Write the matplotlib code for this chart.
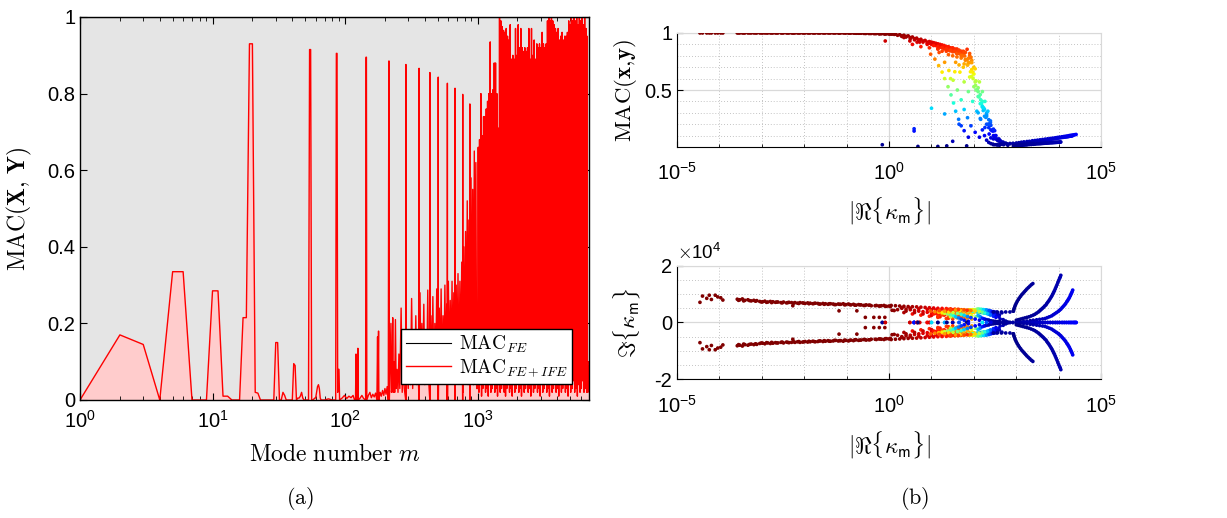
import numpy as np
import matplotlib
matplotlib.use("Agg")
import matplotlib.pyplot as plt
from matplotlib.ticker import FixedLocator, MultipleLocator, NullFormatter

plt.rcParams['font.family'] = ['Liberation Sans', 'DejaVu Sans']
plt.rcParams['mathtext.fontset'] = 'cm'
plt.rcParams['axes.unicode_minus'] = False

# ---------------- (a) MAC per mode ----------------
fe_modes = [1, 6900]
mac_fe = [1.0, 1.0]

# modes 1..66, read one by one
modes_lo = [1, 2, 3, 4, 5, 6, 7, 8, 9, 10,
            11, 12, 13, 14, 15, 16, 17, 18, 19, 20,
            21, 22, 23, 24, 25, 26, 27, 28, 29, 30,
            31, 32, 33, 34, 35, 36, 37, 38, 39, 40,
            41, 42, 43, 44, 45, 46, 47, 48, 49, 50,
            51, 52, 53, 54, 55, 56, 57, 58, 59, 60,
            61, 62, 63, 64, 65, 66]
mac_lo = [0.0, 0.17, 0.145, 0.0, 0.335, 0.335, 0.0, 0.0, 0.0, 0.285,
          0.285, 0.01, 0.01, 0.0, 0.0, 0.0, 0.215, 0.215, 0.93, 0.93,
          0.02, 0.018, 0.0, 0.0, 0.0, 0.0, 0.0, 0.0, 0.0, 0.15,
          0.15, 0.0, 0.0, 0.02, 0.012, 0.0, 0.0, 0.0, 0.0, 0.0,
          0.095, 0.09, 0.0, 0.005, 0.005, 0.01, 0.02, 0.005, 0.0, 0.0,
          0.0, 0.0, 0.0, 0.915, 0.915, 0.0, 0.0, 0.002, 0.005, 0.005,
          0.02, 0.035, 0.04, 0.03, 0.005, 0.0]

modes_mid = [70, 75, 80, 85, 86, 87, 88, 89, 90, 91,
             95, 99, 103, 107, 111, 115, 118, 120, 121, 122,
             124, 125, 126, 130, 134, 138, 143, 144, 145, 146,
             150, 154, 158, 162, 166, 170, 174, 176, 177, 179,
             180, 184, 188, 192, 196, 200, 204, 208, 212, 214,
             215, 216, 222, 224, 227, 229, 231, 234, 237, 240,
             243, 247, 251, 255, 259, 265, 270, 275, 280, 287,
             288, 289, 295, 300, 306, 312, 318, 324, 330, 336,
             342, 348, 354, 361, 362, 363, 368, 374, 380, 386,
             393, 400, 407, 414, 421, 428, 436, 437, 438, 445,
             452, 460, 468, 476, 484, 492, 500, 504, 505, 506,
             514, 522, 531, 540, 549, 558, 567, 576, 585, 591,
             592, 593, 602, 612, 622, 632, 642, 652, 662, 675,
             676, 677, 690, 700, 712, 724, 736, 748, 760, 772,
             773, 774, 788, 800, 812, 824, 836, 848, 860, 874,
             875, 876, 893, 906, 919, 932, 945, 958, 971, 985]
mac_mid = [0.0, 0.003, 0.0, 0.0, 0.905, 0.905, 0.02, 0.08, 0.08, 0.0,
           0.005, 0.012, 0.004, 0.01, 0.006, 0.012, 0.0, 0.0, 0.12, 0.0,
           0.0, 0.135, 0.0, 0.005, 0.012, 0.004, 0.0, 0.895, 0.895, 0.0,
           0.012, 0.02, 0.006, 0.015, 0.008, 0.018, 0.0, 0.165, 0.0, 0.18,
           0.0, 0.02, 0.01, 0.025, 0.012, 0.03, 0.015, 0.035, 0.0, 0.885,
           0.885, 0.0, 0.2, 0.02, 0.04, 0.215, 0.02, 0.10, 0.02, 0.21,
           0.03, 0.08, 0.02, 0.12, 0.03, 0.24, 0.02, 0.09, 0.03, 0.0,
           0.876, 0.0, 0.14, 0.03, 0.18, 0.04, 0.265, 0.03, 0.15, 0.05,
           0.22, 0.04, 0.12, 0.0, 0.866, 0.0, 0.28, 0.05, 0.20, 0.06,
           0.25, 0.04, 0.18, 0.07, 0.287, 0.05, 0.0, 0.855, 0.0, 0.22,
           0.06, 0.27, 0.05, 0.20, 0.08, 0.29, 0.05, 0.0, 0.843, 0.0,
           0.24, 0.07, 0.29, 0.06, 0.22, 0.09, 0.30, 0.07, 0.25, 0.0,
           0.827, 0.0, 0.31, 0.08, 0.26, 0.10, 0.31, 0.07, 0.28, 0.0,
           0.814, 0.0, 0.30, 0.09, 0.33, 0.06, 0.31, 0.10, 0.36, 0.0,
           0.798, 0.02, 0.40, 0.05, 0.44, 0.08, 0.52, 0.04, 0.47, 0.0,
           0.773, 0.03, 0.58, 0.05, 0.55, 0.04, 0.65, 0.06, 0.62, 0.03]

modes_hi = [1000, 1012, 1024, 1035, 1047, 1060, 1072, 1085, 1097, 1110,
            1123, 1136, 1149, 1163, 1176, 1190, 1204, 1218, 1232, 1246,
            1261, 1275, 1290, 1305, 1320, 1336, 1351, 1367, 1383, 1399,
            1415, 1432, 1449, 1465, 1482, 1500, 1517, 1535, 1552, 1570,
            1589, 1607, 1626, 1645, 1664, 1683, 1703, 1723, 1743, 1763,
            1784, 1804, 1825, 1847, 1868, 1890, 1912, 1934, 1957, 1979,
            2002, 2026, 2049, 2073, 2097, 2122, 2146, 2171, 2197, 2222,
            2248, 2274, 2301, 2327, 2355, 2382, 2410, 2438, 2466, 2495,
            2524, 2553, 2583, 2613, 2643, 2674, 2705, 2736, 2768, 2800,
            2833, 2866, 2899, 2933, 2967, 3001, 3036, 3071, 3107, 3143,
            3180, 3217, 3254, 3292, 3330, 3369, 3408, 3448, 3488, 3528,
            3569, 3611, 3653, 3695, 3738, 3782, 3826, 3870, 3915, 3960,
            4006, 4053, 4100, 4148, 4196, 4245, 4294, 4344, 4394, 4445,
            4497, 4549, 4602, 4655, 4709, 4764, 4819, 4875, 4932, 4989,
            5047, 5106, 5165, 5225, 5286, 5347, 5409, 5472, 5536, 5600,
            5665, 5731, 5797, 5865, 5933, 6002, 6071, 6142, 6213, 6285,
            6358, 6432, 6507, 6582, 6659, 6700, 6736, 6770, 6800, 6850]
mac_hi = [0.03, 0.66, 0.02, 0.68, 0.04, 0.80, 0.01, 0.69, 0.03, 0.74,
          0.05, 0.74, 0.02, 0.76, 0.03, 0.78, 0.01, 0.80, 0.04, 0.935,
          0.02, 0.80, 0.03, 0.81, 0.05, 0.88, 0.02, 0.88, 0.03, 0.80,
          0.01, 0.71, 0.04, 1.00, 0.02, 0.99, 0.03, 0.975, 0.05, 0.965,
          0.02, 0.96, 0.01, 0.97, 0.03, 0.95, 0.04, 0.94, 0.02, 0.98,
          0.03, 0.89, 0.01, 0.90, 0.04, 0.89, 0.02, 0.97, 0.03, 0.90,
          0.05, 0.98, 0.02, 0.92, 0.03, 0.97, 0.01, 0.92, 0.04, 0.91,
          0.02, 0.92, 0.03, 0.91, 0.05, 0.92, 0.02, 0.97, 0.03, 0.89,
          0.01, 0.97, 0.04, 0.90, 0.02, 0.94, 0.03, 0.89, 0.05, 0.93,
          0.02, 0.92, 0.03, 0.93, 0.01, 0.92, 0.04, 0.96, 0.02, 0.93,
          0.03, 0.92, 0.05, 0.93, 0.02, 0.99, 0.03, 1.00, 0.01, 0.99,
          0.04, 1.00, 0.02, 0.99, 0.03, 0.98, 0.05, 0.97, 0.02, 0.96,
          0.03, 0.97, 0.01, 0.94, 0.04, 0.95, 0.02, 0.96, 0.03, 0.94,
          0.05, 0.95, 0.02, 0.95, 0.03, 0.96, 0.01, 0.99, 0.04, 0.98,
          0.02, 1.00, 0.03, 0.99, 0.05, 1.00, 0.02, 0.99, 0.03, 1.00,
          0.01, 0.98, 0.04, 1.00, 0.02, 0.99, 0.03, 1.00, 0.05, 0.98,
          0.02, 1.00, 0.03, 0.97, 0.02, 0.95, 0.03, 0.09, 0.02, 0.10]

# ---------------- (b) eigenvalues: log10|Re k|, MAC(x,y), Im k [x1e4] ----------------
slow_logre = [-4.46, -4.40, -4.30, -4.24, -4.19, -4.10, -4.04, -3.97, -3.92, -3.58,
              -3.52, -3.46, -3.40, -3.33, -3.25, -3.19, -3.12, -3.05, -2.98, -2.93,
              -2.86, -2.80, -2.74, -2.68, -2.62, -2.55, -2.49, -2.42, -2.36, -2.30,
              -2.27, -2.22, -2.16, -2.10, -2.04, -1.98, -1.92, -1.86, -1.80, -1.74,
              -1.68, -1.62, -1.56, -1.50, -1.44, -1.38, -1.32, -1.26, -1.20, -1.18,
              -1.14, -1.08, -1.02, -0.96, -0.90, -0.84, -0.78, -0.76, -0.72, -0.66,
              -0.60, -0.56, -0.54, -0.48, -0.42, -0.36, -0.30, -0.23, -0.24, -0.18,
              -0.12, -0.10, -0.06, 0.00, 0.07, 0.12]
slow_mac = [1.0, 1.0, 1.0, 1.0, 1.0, 1.0, 1.0, 1.0, 1.0, 1.0,
            1.0, 1.0, 1.0, 1.0, 1.0, 1.0, 1.0, 1.0, 1.0, 1.0,
            1.0, 1.0, 1.0, 1.0, 1.0, 1.0, 1.0, 1.0, 1.0, 1.0,
            1.0, 1.0, 1.0, 1.0, 1.0, 1.0, 1.0, 1.0, 1.0, 1.0,
            1.0, 1.0, 1.0, 1.0, 1.0, 1.0, 1.0, 1.0, 1.0, 1.0,
            1.0, 1.0, 0.999, 0.999, 0.999, 0.999, 0.998, 0.998, 0.998, 0.998,
            0.997, 0.997, 0.997, 0.996, 0.996, 0.995, 0.995, 0.994, 0.994, 0.993,
            0.993, 0.992, 0.992, 0.99, 0.99, 0.988]
slow_im = [0.71, 0.93, 0.85, 0.96, 0.81, 0.96, 0.90, 0.87, 0.79, 0.82,
           0.80, 0.83, 0.78, 0.80, 0.76, 0.78, 0.77, 0.74, 0.73, 0.75,
           0.72, 0.74, 0.73, 0.71, 0.72, 0.70, 0.72, 0.69, 0.71, 0.70,
           0.59, 0.70, 0.68, 0.70, 0.69, 0.67, 0.69, 0.68, 0.66, 0.68,
           0.67, 0.65, 0.67, 0.66, 0.64, 0.66, 0.65, 0.63, 0.65, 0.41,
           0.64, 0.66, 0.63, 0.65, 0.62, 0.64, 0.61, 0.41, 0.63, 0.62,
           0.60, 0.18, 0.62, 0.61, 0.59, 0.18, 0.60, 0.18, 0.58, 0.59,
           0.60, 0.18, 0.57, 0.58, 0.43, 0.42]

slow2_logre = [-3.55, -3.43, -3.29, -3.15, -3.01, -2.89, -2.77, -2.65, -2.52, -2.39,
               -2.25, -2.13, -2.01, -1.89, -1.77, -1.65, -1.53, -1.41, -1.29, -1.17,
               -1.05, -0.93, -0.81, -0.69, -0.57, -0.45, -0.33, -0.21, -0.09, 0.03]
slow2_mac = [1.0, 1.0, 1.0, 1.0, 1.0, 1.0, 1.0, 1.0, 1.0, 1.0,
             1.0, 1.0, 1.0, 1.0, 1.0, 1.0, 1.0, 1.0, 1.0, 1.0,
             1.0, 0.999, 0.999, 0.998, 0.997, 0.996, 0.995, 0.994, 0.993, 0.991]
slow2_im = [0.78, 0.76, 0.77, 0.75, 0.72, 0.71, 0.70, 0.72, 0.69, 0.70,
            0.68, 0.67, 0.68, 0.66, 0.67, 0.65, 0.64, 0.66, 0.63, 0.64,
            0.62, 0.63, 0.61, 0.62, 0.60, 0.61, 0.59, 0.58, 0.57, 0.56]

real_logre = [-0.16, -0.09, 0.49, 0.59, 0.59, 0.66, 0.72, 0.90, 0.95, 1.00,
              1.31, 0.68, 1.15, 1.36, 1.50, 1.65, 1.83]
real_mac = [0.02, 0.93, 0.93, 0.16, 0.14, 0.92, 0.92, 0.90, 0.91, 0.34,
            0.29, 0.005, 0.005, 0.01, 0.05, 0.20, 0.01]
real_im = [0.0, 0.0, 0.0, 0.0, 0.0, 0.0, 0.0, 0.0, 0.0, 0.0,
           0.0, 0.0, 0.0, 0.0, 0.0, 0.0, 0.0]

top_logre = [0.05, 0.15, 0.25, 0.35, 0.45, 0.55, 0.65, 0.75, 0.85, 0.95,
             1.05, 1.15, 1.25, 1.35, 1.45, 1.55, 1.62, 1.70, 1.75,
             0.30, 0.40, 0.50, 0.60, 0.70, 0.80, 0.90, 1.00, 1.10, 1.20,
             1.30, 1.40, 1.50, 1.60, 0.35, 0.55, 0.75, 0.95, 1.15, 1.35,
             0.20, 0.40, 0.60, 0.80, 1.00, 1.20, 1.40, 0.30, 0.50, 0.70,
             0.90, 1.10, 1.30, 1.50]
top_mac = [0.993, 0.99, 0.985, 0.98, 0.975, 0.965, 0.955, 0.945, 0.935, 0.925,
           0.915, 0.905, 0.895, 0.88, 0.865, 0.85, 0.84, 0.83, 0.82,
           0.97, 0.965, 0.95, 0.94, 0.93, 0.92, 0.91, 0.90, 0.89, 0.875,
           0.86, 0.85, 0.835, 0.82, 0.96, 0.90, 0.88, 0.87, 0.86, 0.84,
           0.98, 0.97, 0.95, 0.93, 0.91, 0.89, 0.86, 0.975, 0.96, 0.94,
           0.92, 0.90, 0.88, 0.85]
top_im = [0.60, 0.59, 0.58, 0.57, 0.56, 0.555, 0.55, 0.54, 0.53, 0.52,
          0.51, 0.50, 0.495, 0.49, 0.48, 0.47, 0.46, 0.45, 0.44,
          0.50, 0.47, 0.45, 0.42, 0.40, 0.38, 0.36, 0.34, 0.32, 0.30,
          0.28, 0.26, 0.24, 0.22, 0.35, 0.30, 0.26, 0.22, 0.18, 0.14,
          0.45, 0.40, 0.35, 0.30, 0.25, 0.20, 0.15, 0.52, 0.50, 0.48,
          0.46, 0.38, 0.26, 0.12]

wedge_logre = [1.35, 1.45, 1.55, 1.65, 1.75, 1.40, 1.50, 1.60, 1.70, 1.80,
               1.25, 1.15, 1.90, 1.85, 1.95, 2.00, 1.58, 1.68, 1.78, 1.88]
wedge_mac = [0.88, 0.87, 0.86, 0.85, 0.84, 0.81, 0.80, 0.79, 0.78, 0.76,
             0.84, 0.86, 0.80, 0.72, 0.76, 0.70, 0.83, 0.82, 0.80, 0.78]
wedge_im = [0.44, 0.42, 0.40, 0.37, 0.33, 0.24, 0.20, 0.17, 0.14, 0.10,
            0.27, 0.22, 0.44, 0.30, 0.40, 0.36, 0.30, 0.26, 0.22, 0.18]

band_logre = [1.00, 1.10, 1.20, 1.30, 1.40, 1.50, 1.60, 1.70, 1.80, 1.90,
              1.05, 1.15, 1.25, 1.35, 1.45, 1.55, 1.65, 1.75, 1.85, 1.95,
              1.60, 1.70, 1.80, 1.90, 1.95, 2.00, 2.05, 2.10, 2.15, 2.20,
              2.25, 2.30, 2.35, 2.40, 2.45, 2.50, 2.55, 2.60, 1.92, 1.98,
              2.04, 2.08, 2.12, 2.18, 2.22, 2.28, 2.34, 2.40, 2.46, 2.52,
              1.85, 1.95, 2.05, 2.15, 2.25, 2.35, 1.75, 1.65, 1.55, 1.45]
band_mac = [0.92, 0.91, 0.90, 0.89, 0.88, 0.87, 0.86, 0.84, 0.83, 0.82,
            0.89, 0.88, 0.87, 0.86, 0.85, 0.84, 0.82, 0.80, 0.77, 0.74,
            0.82, 0.80, 0.77, 0.74, 0.68, 0.64, 0.58, 0.52, 0.46, 0.40,
            0.33, 0.30, 0.24, 0.19, 0.14, 0.10, 0.07, 0.05, 0.66, 0.60,
            0.54, 0.50, 0.44, 0.38, 0.32, 0.26, 0.20, 0.15, 0.10, 0.07,
            0.72, 0.62, 0.50, 0.38, 0.27, 0.17, 0.70, 0.72, 0.66, 0.60]
band_im = [0.45, 0.44, 0.43, 0.42, 0.46, 0.45, 0.44, 0.43, 0.42, 0.40,
           0.30, 0.32, 0.34, 0.36, 0.30, 0.28, 0.25, 0.20, 0.16, 0.12,
           0.42, 0.40, 0.38, 0.36, 0.34, 0.40, 0.38, 0.36, 0.35, 0.34,
           0.33, 0.32, 0.31, 0.30, 0.29, 0.28, 0.27, 0.26, 0.44, 0.44,
           0.43, 0.47, 0.47, 0.46, 0.45, 0.44, 0.42, 0.40, 0.38, 0.36,
           0.28, 0.24, 0.20, 0.16, 0.12, 0.08, 0.30, 0.33, 0.22, 0.20]

s1_logre = [0.98, 1.08, 1.17, 1.25, 1.31, 1.39, 1.46, 1.52, 1.57, 1.64, 1.70, 1.77, 1.87]
s1_mac = [0.814, 0.771, 0.714, 0.657, 0.60, 0.529, 0.457, 0.386, 0.314, 0.243, 0.186, 0.143, 0.086]
s1_im = [0.40, 0.38, 0.36, 0.34, 0.32, 0.30, 0.27, 0.24, 0.20, 0.16, 0.12, 0.08, 0.04]

s2_logre = [1.18, 1.31, 1.41, 1.51, 1.61, 1.70, 1.77, 1.85, 1.93, 2.03, 2.13]
s2_mac = [0.829, 0.743, 0.671, 0.586, 0.50, 0.414, 0.329, 0.257, 0.186, 0.129, 0.086]
s2_im = [0.42, 0.40, 0.37, 0.35, 0.32, 0.29, 0.25, 0.21, 0.17, 0.12, 0.08]

s3_logre = [1.44, 1.57, 1.67, 1.77, 1.87, 1.97, 2.07, 2.16, 2.26, 2.36, 2.46]
s3_mac = [0.843, 0.743, 0.657, 0.571, 0.486, 0.40, 0.314, 0.243, 0.171, 0.114, 0.071]
s3_im = [0.45, 0.44, 0.43, 0.42, 0.41, 0.40, 0.38, 0.36, 0.34, 0.30, 0.25]

s4_logre = [1.64, 1.77, 1.90, 2.00, 2.10, 2.20, 2.30, 2.39, 2.49, 2.59, 2.69]
s4_mac = [0.843, 0.729, 0.614, 0.529, 0.443, 0.357, 0.286, 0.214, 0.143, 0.071, 0.043]
s4_im = [0.46, 0.45, 0.44, 0.43, 0.42, 0.40, 0.37, 0.35, 0.33, 0.20, 0.10]

s5_logre = [1.77, 1.87, 1.97, 2.03, 2.10, 2.16, 2.23, 2.30, 2.36, 2.43, 2.49, 2.56, 2.66]
s5_mac = [0.829, 0.743, 0.657, 0.571, 0.486, 0.414, 0.343, 0.271, 0.20, 0.143, 0.086, 0.057, 0.043]
s5_im = [0.44, 0.44, 0.45, 0.45, 0.46, 0.46, 0.45, 0.44, 0.42, 0.38, 0.36, 0.35, 0.34]

s6_logre = [1.84, 1.93, 2.03, 2.13, 2.20, 2.26, 2.33, 2.39, 2.46, 2.52, 2.62, 2.75]
s6_mac = [0.857, 0.786, 0.686, 0.571, 0.486, 0.40, 0.314, 0.229, 0.157, 0.10, 0.057, 0.034]
s6_im = [0.43, 0.42, 0.40, 0.38, 0.36, 0.33, 0.30, 0.26, 0.22, 0.18, 0.12, 0.05]

bz_logre = [2.10, 2.15, 2.20, 2.25, 2.30, 2.35, 2.40, 2.45, 2.50, 2.55, 2.60,
            2.70, 2.80, 2.46, 2.55, 2.65, 2.75, 2.85, 2.93, 2.20, 2.30, 2.40]
bz_mac = [0.30, 0.25, 0.15, 0.10, 0.06, 0.04, 0.03, 0.025, 0.02, 0.02, 0.015,
          0.02, 0.015, 0.02, 0.02, 0.025, 0.03, 0.03, 0.03, 0.35, 0.20, 0.08]
bz_im = [0.25, 0.20, 0.15, 0.12, 0.10, 0.08, 0.06, 0.05, 0.04, 0.03, 0.03,
         0.02, 0.015, 0.37, 0.37, 0.37, 0.37, 0.37, 0.40, 0.0, 0.0, 0.0]

# four high-|Re| branches
ca_logre = [2.55, 2.62, 2.70, 2.78, 2.85, 2.92, 3.00, 3.06, 3.12, 3.18, 3.25, 3.31, 3.38, 3.44,
            3.50, 3.56, 3.62, 3.68, 3.74, 3.80, 3.86, 3.92, 3.97, 4.02, 4.08, 4.13, 4.18, 4.23,
            4.27, 4.31, 4.35, 4.38, 4.41]
ca_mac = [0.02, 0.022, 0.025, 0.028, 0.03, 0.032, 0.035, 0.038, 0.042, 0.045, 0.048, 0.05, 0.055, 0.057,
          0.06, 0.063, 0.066, 0.069, 0.072, 0.075, 0.078, 0.081, 0.084, 0.087, 0.09, 0.093, 0.096, 0.099,
          0.102, 0.104, 0.106, 0.108, 0.11]
ca_im = [0.0, 0.0, 0.0, 0.0, 0.0, 0.0, 0.0, 0.0, 0.0, 0.0, 0.0, 0.0, 0.0, 0.0,
         0.0, 0.0, 0.0, 0.0, 0.0, 0.0, 0.0, 0.0, 0.0, 0.0, 0.0, 0.0, 0.0, 0.0,
         0.0, 0.0, 0.0, 0.0, 0.0]

cb_logre = [3.09, 3.17, 3.25, 3.33, 3.40, 3.48, 3.55, 3.62, 3.68, 3.73, 3.78, 3.83, 3.87, 3.91,
            3.95, 3.99, 4.02, 4.05, 4.08, 4.11, 4.14, 4.165, 4.19, 4.21, 4.23, 4.25, 4.27, 4.285,
            4.30, 4.315, 4.33]
cb_mac = [0.03, 0.032, 0.035, 0.038, 0.042, 0.046, 0.05, 0.054, 0.058, 0.062, 0.065, 0.068, 0.07, 0.072,
          0.075, 0.078, 0.08, 0.082, 0.084, 0.085, 0.087, 0.088, 0.09, 0.091, 0.092, 0.094, 0.095, 0.096,
          0.097, 0.099, 0.10]
cb_im = [0.02, 0.035, 0.05, 0.065, 0.08, 0.095, 0.11, 0.125, 0.14, 0.17, 0.20, 0.23, 0.27, 0.31,
         0.35, 0.39, 0.43, 0.47, 0.52, 0.57, 0.62, 0.67, 0.73, 0.77, 0.82, 0.87, 0.93, 0.98,
         1.03, 1.08, 1.14]

cc_logre = [3.00, 3.05, 3.10, 3.15, 3.20, 3.25, 3.30, 3.35, 3.40, 3.44, 3.48, 3.52, 3.55, 3.58,
            3.61, 3.64, 3.67, 3.70, 3.72, 3.745, 3.77, 3.795, 3.82, 3.84, 3.86, 3.88, 3.90, 3.92,
            3.94, 3.96, 3.98, 4.00, 4.02, 4.035, 4.05]
cc_mac = [0.012, 0.013, 0.015, 0.016, 0.018, 0.019, 0.021, 0.022, 0.024, 0.025, 0.027, 0.028, 0.029, 0.03,
          0.031, 0.032, 0.033, 0.034, 0.035, 0.035, 0.036, 0.037, 0.038, 0.038, 0.039, 0.039, 0.04, 0.04,
          0.041, 0.041, 0.042, 0.042, 0.043, 0.043, 0.044]
cc_im = [0.08, 0.10, 0.12, 0.14, 0.16, 0.18, 0.20, 0.23, 0.26, 0.29, 0.33, 0.37, 0.41, 0.45,
         0.49, 0.53, 0.58, 0.62, 0.67, 0.72, 0.77, 0.83, 0.89, 0.94, 1.00, 1.06, 1.12, 1.19,
         1.26, 1.33, 1.41, 1.48, 1.55, 1.60, 1.66]

cd_logre = [2.93, 2.94, 2.95, 2.965, 2.98, 3.00, 3.02, 3.045, 3.07, 3.10, 3.13, 3.16, 3.19, 3.22,
            3.25, 3.285, 3.32, 3.355, 3.39]
cd_mac = [0.01, 0.010, 0.011, 0.011, 0.012, 0.013, 0.014, 0.015, 0.016, 0.017, 0.018, 0.019, 0.02, 0.021,
          0.022, 0.024, 0.025, 0.026, 0.027]
cd_im = [0.40, 0.45, 0.50, 0.56, 0.62, 0.68, 0.74, 0.80, 0.86, 0.92, 0.98, 1.03, 1.08, 1.13,
         1.18, 1.23, 1.28, 1.33, 1.37]

# ---------------- figure ----------------
fig = plt.figure(figsize=(12.27, 5.18), dpi=100)

modes = np.concatenate([modes_lo, modes_mid, modes_hi])
mac_ife = np.concatenate([mac_lo, mac_mid, mac_hi])

ax = fig.add_axes([0.0652, 0.2278, 0.4146, 0.7394])
ax.fill_between(fe_modes, mac_fe, color='#e5e5e5', lw=0)
ax.fill_between(modes, mac_ife, color='#ffcccc', lw=0)
ax.plot(fe_modes, mac_fe, color='k', lw=0.8, label=r'$\mathrm{MAC}_{FE}$')
ax.plot(modes, mac_ife, color='red', lw=1.0, label=r'$\mathrm{MAC}_{FE+IFE}$')
ax.set_xscale('log')
ax.set_xlim(1, 6900)
ax.set_ylim(0, 1)
ax.set_xticks([1, 10, 100, 1000],
              [r'$\mathregular{10^{0}}$', r'$\mathregular{10^{1}}$',
               r'$\mathregular{10^{2}}$', r'$\mathregular{10^{3}}$'])
ax.xaxis.set_minor_formatter(NullFormatter())
ax.set_yticks([0, 0.2, 0.4, 0.6, 0.8, 1.0], ['0', '0.2', '0.4', '0.6', '0.8', '1'])
ax.tick_params(which='both', direction='in', top=True, right=True, labelsize=14.5)
ax.tick_params(which='major', length=5)
ax.tick_params(which='minor', length=3)
ax.tick_params(axis='x', pad=7)
for s in ax.spines.values():
    s.set_linewidth(1.0)
ax.set_ylabel(r'$\mathrm{MAC}(\mathbf{X},\,\mathbf{Y})$', fontsize=17)
ax.yaxis.set_label_coords(-0.09, 0.5)
ax.set_xlabel(r'$\mathrm{Mode\ number}\ m$', fontsize=17, va='top')
ax.xaxis.set_label_coords(0.5, -0.115)
leg = ax.legend(loc='lower right', bbox_to_anchor=(0.967, 0.042), fontsize=14,
                frameon=True, fancybox=False, edgecolor='k', framealpha=1,
                handlelength=2.3, borderpad=0.25, labelspacing=0.15,
                handletextpad=0.4, borderaxespad=0)
leg.get_frame().set_linewidth(1.0)

# ---- (b) eigenvalue scatter ----
logre = np.concatenate([slow_logre, slow2_logre, real_logre, top_logre, wedge_logre, band_logre,
                        s1_logre, s2_logre, s3_logre, s4_logre, s5_logre, s6_logre,
                        bz_logre, ca_logre, cb_logre, cc_logre, cd_logre])
macxy = np.concatenate([slow_mac, slow2_mac, real_mac, top_mac, wedge_mac, band_mac,
                        s1_mac, s2_mac, s3_mac, s4_mac, s5_mac, s6_mac,
                        bz_mac, ca_mac, cb_mac, cc_mac, cd_mac])
imk = np.concatenate([slow_im, slow2_im, real_im, top_im, wedge_im, band_im,
                      s1_im, s2_im, s3_im, s4_im, s5_im, s6_im,
                      bz_im, ca_im, cb_im, cc_im, cd_im])
rek = 10.0 ** logre

xt = [1e-5, 1e0, 1e5]
xtl = [r'$\mathregular{10^{-5}}$', r'$\mathregular{10^{0}}$', r'$\mathregular{10^{5}}$']
decades = [1e-4, 1e-3, 1e-2, 1e-1, 1e1, 1e2, 1e3, 1e4]


def style_right(a):
    a.set_xscale('log')
    a.set_xlim(1e-5, 1e5)
    a.set_xticks(xt, xtl)
    a.xaxis.set_minor_locator(FixedLocator(decades))
    a.xaxis.set_minor_formatter(NullFormatter())
    a.grid(True, which='major', color='#d9d9d9', lw=0.9, ls='-')
    a.grid(True, which='minor', color='#b0b0b0', lw=0.6, ls=(0, (1, 2.5)))
    a.set_axisbelow(True)
    a.tick_params(which='both', direction='in', labelsize=14.5)
    a.tick_params(which='major', length=4)
    a.tick_params(axis='x', which='major', pad=11)
    a.tick_params(axis='x', which='minor', length=2.5)
    a.tick_params(axis='y', which='minor', length=0)
    a.spines['top'].set_color('#d9d9d9')
    a.spines['right'].set_color('#d9d9d9')


ax2 = fig.add_axes([0.5518, 0.7162, 0.3456, 0.2201])
ax2.scatter(rek, macxy, c=macxy, cmap='jet', vmin=0, vmax=1, s=7, lw=0, zorder=3)
style_right(ax2)
ax2.set_ylim(0, 1)
ax2.set_yticks([0.5, 1.0], ['0.5', '1'])
ax2.yaxis.set_minor_locator(MultipleLocator(0.1))
ax2.set_ylabel(r'$\mathrm{MAC}(\mathbf{x},\!\mathbf{y})$', fontsize=16.5)
ax2.yaxis.set_label_coords(-0.09, 0.5)
ax2.set_xlabel(r'$|\Re\{\kappa_{\mathsf{m}}\}|$', fontsize=16.5, va='top')
ax2.xaxis.set_label_coords(0.5, -0.42)

ax3 = fig.add_axes([0.5518, 0.2678, 0.3456, 0.2193])
ax3.scatter(np.concatenate([rek, rek]), np.concatenate([imk, -imk]),
            c=np.concatenate([macxy, macxy]), cmap='jet', vmin=0, vmax=1, s=7, lw=0, zorder=3)
style_right(ax3)
ax3.set_ylim(-2, 2)
ax3.set_yticks([-2, 0, 2], ['-2', '0', '2'])
ax3.yaxis.set_minor_locator(MultipleLocator(0.5))
ax3.text(0.0, 1.02, r'$\times\mathregular{10^{4}}$', transform=ax3.transAxes,
         fontsize=13.5, ha='left', va='bottom')
ax3.set_ylabel(r'$\Im\{\kappa_{\mathsf{m}}\}$', fontsize=16.5)
ax3.yaxis.set_label_coords(-0.083, 0.5)
ax3.set_xlabel(r'$|\Re\{\kappa_{\mathsf{m}}\}|$', fontsize=16.5, va='top')
ax3.xaxis.set_label_coords(0.5, -0.44)

fig.text(300 / 1227, 1 - 498 / 518, r'$\mathrm{(a)}$', fontsize=16, ha='center', va='center')
fig.text(915 / 1227, 1 - 498 / 518, r'$\mathrm{(b)}$', fontsize=16, ha='center', va='center')

fig.savefig('out.png', dpi=100)
